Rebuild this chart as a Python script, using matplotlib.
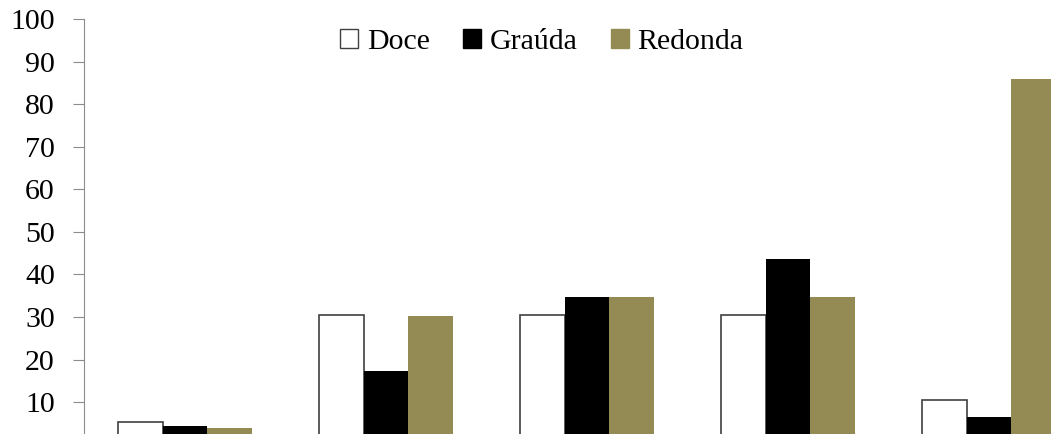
import matplotlib
matplotlib.use("Agg")
import matplotlib.pyplot as plt
import numpy as np
from matplotlib.patches import Patch

groups = ["1", "2", "3", "4", "5"]
doce = [5.4, 30.4, 30.4, 30.4, 10.5]
grauda = [4.4, 17.3, 34.7, 43.6, 6.4]
redonda = [4.0, 30.2, 34.7, 34.7, 85.9]
yticks = [10, 20, 30, 40, 50, 60, 70, 80, 90, 100]

plt.rcParams['font.family'] = ['Liberation Serif', 'DejaVu Serif']

fig = plt.figure(figsize=(10.51, 4.34), dpi=100)
ax = fig.add_axes([84/1051, 0, 1 - 84/1051, (434 - 19)/434])

x = np.arange(len(groups))
w = 0.221
ax.bar(x - w, doce, w, bottom=0, color='white', edgecolor='#404040', linewidth=1.2, label='Doce')
ax.bar(x, grauda, w, color='black', edgecolor='black', linewidth=0, label='Graúda')
ax.bar(x + w, redonda, w, color='#948A54', edgecolor='#948A54', linewidth=0, label='Redonda')

ax.set_ylim(2.5, 100)
ax.set_xlim(-0.502, 4.308)
ax.set_yticks(yticks)
ax.set_yticklabels([str(t) for t in yticks], fontsize=21.5)
ax.set_xticks([])
for s in ['top', 'right', 'bottom']:
    ax.spines[s].set_visible(False)
ax.spines['left'].set_color('#8c8c8c')
ax.tick_params(axis='y', direction='out', length=8, color='#8c8c8c', pad=13)

handles = [Patch(facecolor='white', edgecolor='#404040', label='Doce'),
           Patch(facecolor='black', edgecolor='black', label='Graúda'),
           Patch(facecolor='#948A54', edgecolor='#948A54', label='Redonda')]
leg = ax.legend(handles=handles, loc='center', bbox_to_anchor=(542/1051, 1 - 42/434), bbox_transform=fig.transFigure,
                ncol=3, frameon=False, fontsize=21.5, handlelength=0.6, handleheight=0.6,
                handletextpad=0.3, columnspacing=1.1)

fig.savefig("out.png", dpi=100)
